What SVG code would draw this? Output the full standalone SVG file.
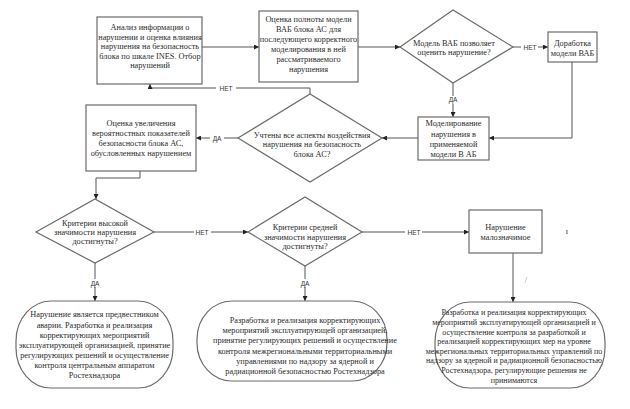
<svg xmlns="http://www.w3.org/2000/svg" width="630" height="409" viewBox="0 0 630 409">
<defs>
<marker id="ah" viewBox="0 0 6 6" refX="6" refY="3" markerWidth="5" markerHeight="5" orient="auto" markerUnits="userSpaceOnUse">
<path d="M0,0 L6,3 L0,6 z" fill="#222"/>
</marker>
<style>
.box{fill:#fff;stroke:#6b6b6b;stroke-width:1.2}
.t{font-family:"Liberation Serif","Times New Roman",serif;font-size:8.3px;fill:#2a2a2a;text-anchor:middle}
.s{font-size:8px}
.l{font-family:"Liberation Sans",Arial,sans-serif;font-size:6.5px;fill:#333;text-anchor:middle}
.c{fill:none;stroke:#555;stroke-width:1}
.lb{fill:#fff}
</style>
</defs>
<rect width="630" height="409" fill="#fff"/>
<g id="connectors">
<path class="c" d="M202,47 H259" marker-end="url(#ah)"/>
<path class="c" d="M358,47 H400" marker-end="url(#ah)"/>
<path class="c" d="M513,47 H548" marker-end="url(#ah)"/>
<path class="c" d="M453,83 V117" marker-end="url(#ah)"/>
<path class="c" d="M572,62 V138 H489" marker-end="url(#ah)"/>
<path class="c" d="M418,138 H382" marker-end="url(#ah)"/>
<path class="c" d="M310,94 V88 H150 V84" marker-end="url(#ah)"/>
<path class="c" d="M238,138 H196" marker-end="url(#ah)"/>
<path class="c" d="M140,171 V178 H96 V199" marker-end="url(#ah)"/>
<path class="c" d="M154,232 H248" marker-end="url(#ah)"/>
<path class="c" d="M362,232 H469" marker-end="url(#ah)"/>
<path class="c" d="M95,263 V301" marker-end="url(#ah)"/>
<path class="c" d="M305,266 V301" marker-end="url(#ah)"/>
<path class="c" d="M513,253 V302" marker-end="url(#ah)"/>
<rect class="lb" x="521" y="43" width="17" height="8"/>
<text class="l" x="530" y="49.5">НЕТ</text>
<rect class="lb" x="447" y="96" width="12" height="8"/>
<text class="l" x="453" y="102">ДА</text>
<rect class="lb" x="216" y="84" width="20" height="8"/>
<text class="l" x="226" y="90.5">НЕТ</text>
<rect class="lb" x="210" y="134" width="14" height="8"/>
<text class="l" x="217" y="140.5">ДА</text>
<rect class="lb" x="194" y="228" width="17" height="8"/>
<text class="l" x="202" y="234.5">НЕТ</text>
<rect class="lb" x="405" y="228" width="17" height="8"/>
<text class="l" x="414" y="234.5">НЕТ</text>
<rect class="lb" x="89" y="279" width="12" height="8"/>
<text class="l" x="95" y="285.5">ДА</text>
<rect class="lb" x="299" y="279" width="12" height="8"/>
<text class="l" x="305" y="285.5">ДА</text>
</g>
<g id="n1">
<rect class="box" x="97" y="17" width="105" height="67"/>
<text class="t" x="150" y="30">Анализ информации о</text>
<text class="t" x="150" y="39.5">нарушении и оценка влияния</text>
<text class="t" x="150" y="49">нарушения на  безопасность</text>
<text class="t" x="150" y="58.5">блока  по шкале INES. Отбор</text>
<text class="t" x="150" y="68">нарушений</text>
</g>
<g id="n2">
<rect class="box" x="259" y="11" width="99" height="71"/>
<text class="t" x="308.5" y="22">Оценка полноты модели</text>
<text class="t" x="308.5" y="32">ВАБ блока АС для</text>
<text class="t" x="308.5" y="42">последующего корректного</text>
<text class="t" x="308.5" y="52">моделирования в ней</text>
<text class="t" x="308.5" y="61.5">рассматриваемого</text>
<text class="t" x="308.5" y="71.5">нарушения</text>
</g>
<g id="n3">
<path class="box" d="M400,47 L453,10 L513,47 L453,83 Z"/>
<text class="t" x="454" y="46">Модель ВАБ позволяет</text>
<text class="t" x="454" y="55">оценить  нарушение?</text>
</g>
<g id="n4">
<rect class="box" x="548" y="32" width="49" height="30"/>
<text class="t" x="572.5" y="45.5">Доработка</text>
<text class="t" x="572.5" y="55.5">модели ВАБ</text>
</g>
<g id="n5">
<rect class="box" x="418" y="117" width="71" height="43"/>
<text class="t" x="453.5" y="126">Моделирование</text>
<text class="t" x="453.5" y="137">нарушения в</text>
<text class="t" x="453.5" y="147">применяемой</text>
<text class="t" x="453.5" y="157">модели В АБ</text>
</g>
<g id="n6">
<path class="box" d="M238,138 L310,94 L382,138 L310,182 Z"/>
<text class="t" x="312" y="138">Учтены все аспекты воздействия</text>
<text class="t" x="312" y="147">нарушения на безопасность</text>
<text class="t" x="312" y="157">блока АС?</text>
</g>
<g id="n7">
<rect class="box" x="86" y="105" width="110" height="66"/>
<text class="t" x="141" y="126">Оценка увеличения</text>
<text class="t" x="141" y="136">вероятностных показателей</text>
<text class="t" x="141" y="146">безопасности блока АС,</text>
<text class="t" x="141" y="156">обусловленных нарушением</text>
</g>
<g id="n8">
<path class="box" d="M36,232 L95,199 L154,232 L95,263 Z"/>
<text class="t" x="95" y="226">Критерии высокой</text>
<text class="t" x="95" y="235">значимости нарушения</text>
<text class="t" x="95" y="244">достигнуты?</text>
</g>
<g id="n9">
<path class="box" d="M248,232 L305,197 L362,232 L305,266 Z"/>
<text class="t" x="305" y="230">Критерии средней</text>
<text class="t" x="305" y="240">значимости нарушения</text>
<text class="t" x="305" y="249">достигнуты?</text>
</g>
<g id="n10">
<rect class="box" x="469" y="210" width="73" height="43"/>
<text class="t" x="505.5" y="230">Нарушение</text>
<text class="t" x="505.5" y="240">малозначимое</text>
<text class="t" x="567" y="234">ı</text>
<text class="t" x="526" y="283" style="fill:#888">/</text>
</g>
<g id="n11">
<rect class="box" x="16" y="301" width="157" height="87" rx="35" ry="40"/>
<text class="t" x="94.5" y="317">Нарушение  является предвестником</text>
<text class="t" x="94.5" y="328">аварии. Разработка и реализация</text>
<text class="t" x="94.5" y="338">корректирующих мероприятий</text>
<text class="t" x="94.5" y="348">эксплуатирующей организацией, принятие</text>
<text class="t" x="94.5" y="358">регулирующих решений и осуществление</text>
<text class="t" x="94.5" y="368">контроля центральным аппаратом</text>
<text class="t" x="94.5" y="378">Ростехнадзора</text>
</g>
<g id="n12">
<rect class="box" x="197" y="301" width="190" height="80" rx="35" ry="38"/>
<text class="t" x="305" y="323">Разработка и реализация корректирующих</text>
<text class="t" x="305" y="333">мероприятий эксплуатирующей организацией,</text>
<text class="t" x="305" y="343">принятие регулирующих решений и осуществление</text>
<text class="t" x="305" y="354">контроля межрегиональными территориальными</text>
<text class="t" x="305" y="364">управлениями по надзору за ядерной и</text>
<text class="t" x="305" y="374">радиационной безопасностью Ростехнадзора</text>
</g>
<g id="n13">
<rect class="box" x="435" y="302" width="170" height="86" rx="35" ry="40"/>
<text class="t s" x="514" y="315">Разработка и реализация корректирующих</text>
<text class="t s" x="514" y="325">мероприятий эксплуатирующей организацией и</text>
<text class="t s" x="514" y="335">осуществление контроля за разработкой и</text>
<text class="t s" x="514" y="344">реализацией корректирующих мер на уровне</text>
<text class="t s" x="514" y="354">межрегиональных территориальных управлений по</text>
<text class="t s" x="514" y="363">надзору за  ядерной и радиационной безопасностью</text>
<text class="t s" x="514" y="373">Ростехнадзора, регулирующие решения не</text>
<text class="t s" x="514" y="383">принимаются</text>
</g>
</svg>
